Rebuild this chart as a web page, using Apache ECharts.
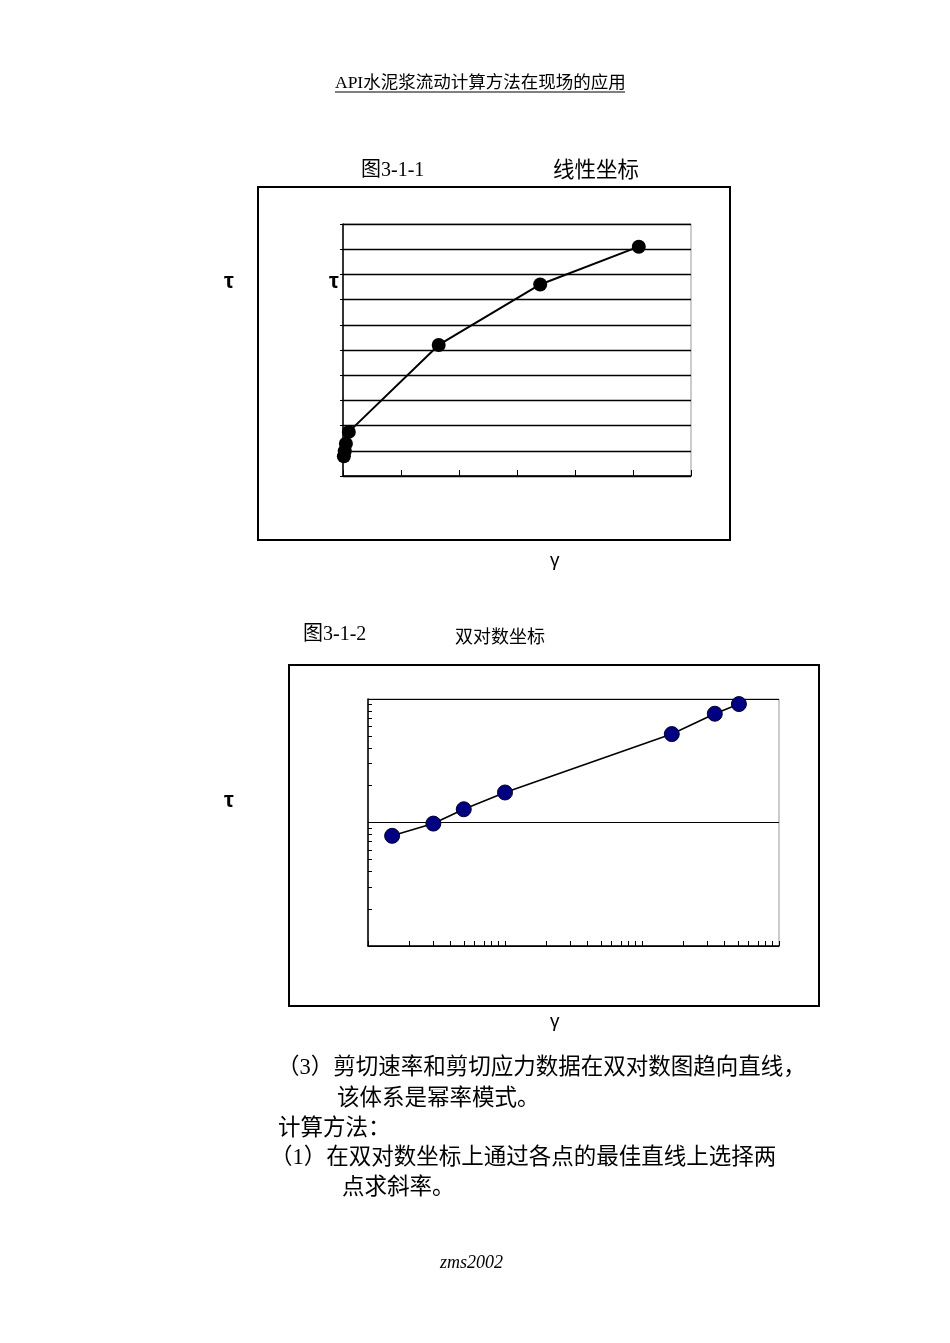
<!DOCTYPE html>
<html>
<head>
<meta charset="utf-8">
<script src="https://cdn.jsdelivr.net/npm/echarts@6/dist/echarts.min.js"></script>
<style>
  html, body { margin: 0; padding: 0; background: #fff; }
  #page { width: 950px; height: 1343px; }
</style>
</head>
<body>
<div id="page"></div>
<script>
// shear rate (1/s) and shear stress
var shearRate = [1.5, 3, 5, 10, 165, 340, 510];
var shearStress = [7.8, 9.8, 12.8, 17.5, 52, 76, 91];

// log axis ticks (excel style minor ticks)
var logXTicks = [1, 2, 3, 4, 5, 6, 7, 8, 9, 10, 20, 30, 40, 50, 60, 70, 80, 90, 100, 200, 300, 400, 500, 600, 700, 800, 900, 1000];
var logYTicks = [1, 2, 3, 4, 5, 6, 7, 8, 9, 10, 20, 30, 40, 50, 60, 70, 80, 90, 100];

var pairs = shearRate.map(function (x, i) { return [x, shearStress[i]]; });

var serif = '"Liberation Serif", "Noto Sans CJK SC", serif';
var sans = '"Liberation Sans", "DejaVu Sans", sans-serif';

function txt(text, x, y, size, family, extra) {
    var s = { text: text, x: x, y: y, font: (extra || '') + ' ' + size + 'px ' + family, fill: '#000', align: 'left', verticalAlign: 'middle' };
    return { type: 'text', style: s, z: 10 };
}

var chart = echarts.init(document.getElementById('page'), null, { renderer: 'canvas' });

chart.setOption({
    backgroundColor: '#fff',
    animation: false,
    grid: [
        { left: 343, top: 224, width: 348, height: 252, show: true, borderColor: '#999', borderWidth: 1, backgroundColor: 'transparent', outerBoundsMode: 'none' },
        { left: 368, top: 699, width: 411, height: 247, show: true, borderColor: '#999', borderWidth: 1, backgroundColor: 'transparent', outerBoundsMode: 'none' }
    ],
    xAxis: [
        {
            gridIndex: 0, type: 'value', min: 0, max: 600, interval: 100,
            axisLine: { show: true, lineStyle: { color: '#000', width: 1.5 } },
            axisTick: { show: true, inside: true, length: 6, lineStyle: { color: '#000', width: 1 } },
            axisLabel: { show: false },
            splitLine: { show: false }
        },
        {
            gridIndex: 1, type: 'log', logBase: 10, min: 1, max: 1000,
            axisLine: { show: true, lineStyle: { color: '#000', width: 1.5 } },
            axisTick: { show: true, inside: true, length: 5, customValues: logXTicks, lineStyle: { color: '#000', width: 1 } },
            axisLabel: { show: false },
            splitLine: { show: false },
            minorTick: { show: false }
        }
    ],
    yAxis: [
        {
            gridIndex: 0, type: 'value', min: 0, max: 100, interval: 10,
            axisLine: { show: true, lineStyle: { color: '#000', width: 1.5 } },
            axisTick: { show: true, inside: false, length: 3, lineStyle: { color: '#000' } },
            axisLabel: { show: false },
            splitLine: { show: true, lineStyle: { color: '#000', width: 1.3 } }
        },
        {
            gridIndex: 1, type: 'log', logBase: 10, min: 1, max: 100,
            axisLine: { show: true, lineStyle: { color: '#000', width: 1.5 } },
            axisTick: { show: true, inside: true, length: 4, customValues: logYTicks, lineStyle: { color: '#000', width: 1 } },
            axisLabel: { show: false },
            splitLine: { show: false }
        },
        {
            // decade grid lines only
            gridIndex: 1, type: 'log', logBase: 10, min: 1, max: 100, position: 'left',
            axisLine: { show: false },
            axisTick: { show: false },
            axisLabel: { show: false },
            splitLine: { show: true, lineStyle: { color: '#000', width: 1 } }
        }
    ],
    series: [
        {
            type: 'line', xAxisIndex: 0, yAxisIndex: 0, data: pairs,
            symbol: 'circle', symbolSize: 14,
            itemStyle: { color: '#000' },
            lineStyle: { color: '#000', width: 2 },
            z: 5
        },
        {
            type: 'line', xAxisIndex: 1, yAxisIndex: 1, data: pairs,
            symbol: 'circle', symbolSize: 15,
            itemStyle: { color: '#000080', borderColor: '#000033', borderWidth: 1 },
            lineStyle: { color: '#000', width: 1.6 },
            z: 5
        }
    ],
    graphic: [
        // page header
        txt('API水泥浆流动计算方法在现场的应用', 335, 83, 17.5, serif),
        { type: 'line', shape: { x1: 335, y1: 92, x2: 625, y2: 92 }, style: { stroke: '#000', lineWidth: 1 } },

        // figure 3-1-1
        txt('图3-1-1', 361, 171, 20, serif),
        txt('线性坐标', 553, 171, 21.5, serif),
        { type: 'rect', shape: { x: 258, y: 187, width: 472, height: 353 }, style: { fill: 'none', stroke: '#000', lineWidth: 2 } },
        txt('τ', 224, 282, 22, sans, 'bold'),
        txt('τ', 329, 282, 22, sans, 'bold'),
        txt('γ', 550, 561, 19, sans),

        // figure 3-1-2
        txt('图3-1-2', 303, 635, 20, serif),
        txt('双对数坐标', 455, 638, 18, serif),
        { type: 'rect', shape: { x: 289, y: 665, width: 530, height: 341 }, style: { fill: 'none', stroke: '#000', lineWidth: 2 } },
        txt('τ', 224, 801, 22, sans, 'bold'),
        txt('γ', 550, 1022, 19, sans),

        // body text
        txt('（3）剪切速率和剪切应力数据在双对数图趋向直线，', 277, 1068, 22.5, serif),
        txt('该体系是幂率模式。', 337, 1099, 22.5, serif),
        txt('计算方法：', 278, 1129, 22.5, serif),
        txt('（1）在双对数坐标上通过各点的最佳直线上选择两', 270, 1158, 22.5, serif),
        txt('点求斜率。', 342, 1188, 22.5, serif),

        txt('zms2002', 440, 1263, 18, serif, 'italic')
    ]
});
</script>
</body>
</html>
